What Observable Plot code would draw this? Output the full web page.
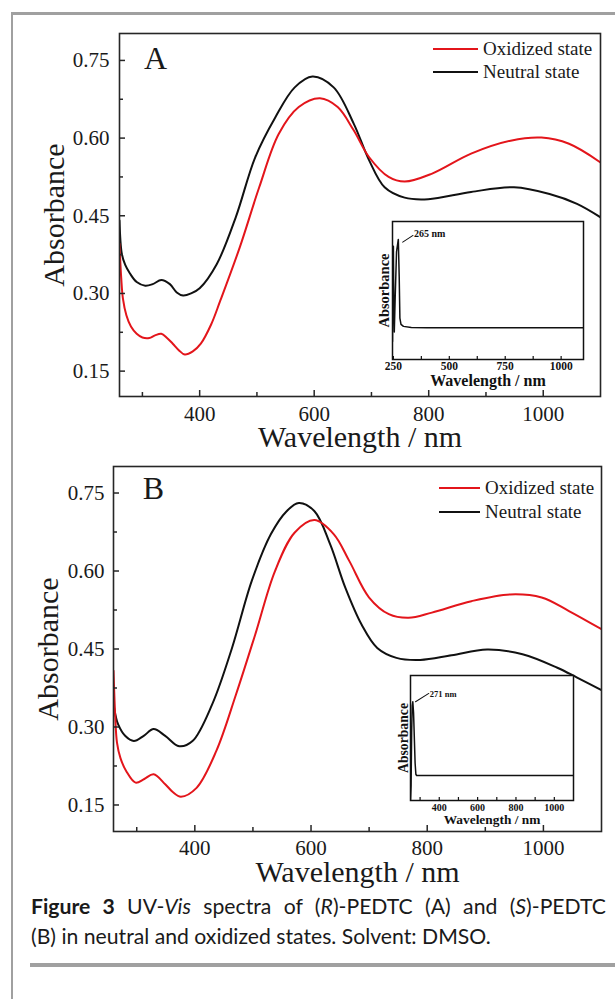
<!DOCTYPE html>
<html><head><meta charset="utf-8">
<script src="https://cdn.jsdelivr.net/npm/d3@7"></script>
<script src="https://cdn.jsdelivr.net/npm/@observablehq/plot@0.6"></script>
<style>
html,body{margin:0;padding:0;background:#fff;}
#page{position:relative;width:615px;height:999px;overflow:hidden;background:#fff;}
.abs{position:absolute;}
#bl{left:10.5px;top:12px;width:2.6px;height:987px;background:#a0a0a0;}
#bt{left:10.5px;top:12px;width:605px;height:2.6px;background:#a0a0a0;}
#br{left:30px;top:963px;width:585px;height:4px;background:#a0a0a0;}
#cap{left:31px;top:891px;width:575px;font-family:Lato,sans-serif;font-size:21.2px;color:#1a1a1a;line-height:30px;}
.l1{text-align:justify;text-align-last:justify;}
</style></head>
<body>
<div id="page">
  <div id="bl" class="abs"></div>
  <div id="bt" class="abs"></div>
  <div id="cap" class="abs">
    <div class="l1"><b>Figure 3</b> UV-<i>Vis</i> spectra of (<i>R</i>)-PEDTC (A) and (<i>S</i>)-PEDTC</div>
    <div>(B) in neutral and oxidized states. Solvent: DMSO.</div>
  </div>
  <div id="br" class="abs"></div>
</div>
<script>
// ---------- data ----------
const xTitle = "Wavelength / nm";
const yTitle = "Absorbance";
const seriesNames = ["Oxidized state", "Neutral state"];
const seriesColors = ["#e3151b", "#111111"];
const majorX = [400, 600, 800, 1000];
const minorX = [300, 500, 700, 900];
const majorY = [0.15, 0.30, 0.45, 0.60, 0.75];
const minorY = [0.225, 0.375, 0.525, 0.675];

// Panel A, (R)-PEDTC
const wlA_neu  = [260, 264, 270, 278, 290, 305, 318, 333, 348, 360, 371, 385, 400, 430, 463, 497, 532, 566, 597, 634, 669, 696, 723, 758, 799, 874, 949, 1011, 1059, 1100];
const absA_neu = [0.441, 0.377, 0.355, 0.339, 0.322, 0.315, 0.318, 0.326, 0.318, 0.302, 0.296, 0.300, 0.310, 0.357, 0.447, 0.563, 0.640, 0.698, 0.719, 0.698, 0.628, 0.557, 0.505, 0.485, 0.482, 0.496, 0.505, 0.492, 0.473, 0.447];
const wlA_ox   = [260, 263, 266, 272, 280, 290, 300, 312, 322, 333, 343, 353, 364, 374, 388, 402, 420, 436, 470, 504, 538, 573, 610, 641, 669, 696, 730, 758, 805, 874, 943, 997, 1045, 1100];
const absA_ox  = [0.396, 0.330, 0.290, 0.258, 0.236, 0.222, 0.215, 0.214, 0.219, 0.222, 0.214, 0.203, 0.190, 0.182, 0.188, 0.203, 0.240, 0.286, 0.389, 0.505, 0.608, 0.660, 0.677, 0.660, 0.615, 0.563, 0.525, 0.516, 0.531, 0.570, 0.595, 0.601, 0.589, 0.553];

// Panel B, (S)-PEDTC
const wlB_neu  = [260, 264, 268, 280, 295, 312, 329, 349, 373, 396, 430, 464, 498, 531, 558, 579, 606, 633, 659, 687, 714, 747, 788, 842, 903, 964, 1024, 1058, 1100];
const absB_neu = [0.344, 0.320, 0.305, 0.283, 0.273, 0.283, 0.296, 0.283, 0.263, 0.273, 0.344, 0.452, 0.581, 0.671, 0.715, 0.731, 0.715, 0.651, 0.568, 0.497, 0.452, 0.433, 0.429, 0.438, 0.449, 0.440, 0.414, 0.395, 0.371];
const wlB_ox   = [260, 263, 266, 272, 282, 298, 313, 329, 349, 362, 376, 403, 437, 471, 504, 538, 572, 606, 639, 666, 700, 734, 768, 808, 876, 943, 997, 1044, 1100];
const absB_ox  = [0.408, 0.320, 0.270, 0.240, 0.215, 0.193, 0.200, 0.209, 0.190, 0.175, 0.166, 0.183, 0.254, 0.363, 0.478, 0.600, 0.674, 0.698, 0.671, 0.619, 0.549, 0.517, 0.510, 0.520, 0.542, 0.555, 0.549, 0.523, 0.488];

// Insets (relative absorbance)
const insetA_wl  = [246, 248, 250, 252, 254, 258, 264, 272, 276, 279, 284, 295, 330, 400, 1100];
const insetA_abs = [0.13, 0.75, 0.82, 0.35, 0.20, 0.45, 0.78, 0.87, 0.60, 0.30, 0.255, 0.24, 0.232, 0.23, 0.23];
const insetA_ticksMajor = [250, 500, 750, 1000];
const insetA_ticksMinor = [375, 625, 875];
const insetA_peakLabel = "265 nm";

const insetB_wl  = [250, 253, 256, 259, 262, 266, 270, 274, 278, 282, 290, 1100];
const insetB_abs = [0.0, 0.12, 0.55, 0.76, 0.79, 0.70, 0.50, 0.30, 0.21, 0.20, 0.20, 0.20];
const insetB_ticksMajor = [400, 600, 800, 1000];
const insetB_ticksMinor = [300, 500, 700, 900];
const insetB_peakLabel = "271 nm";

// ---------- helpers ----------
const rows = (wl, ab) => wl.map((w, i) => ({wl: w, abs: ab[i]}));
const page = document.getElementById("page");
const axisColor = "#262626";
const serif = "'Liberation Serif', 'Times New Roman', serif";
const lineShape = {draw(ctx, l) { ctx.moveTo(0, 0); ctx.lineTo(0, -l); }};

function place(node, left, top) {
  node.style.position = "absolute";
  node.style.left = left + "px";
  node.style.top = top + "px";
  page.appendChild(node);
}

function mainPanel(o) {
  const innerH = o.height - o.mt - o.mb, innerW = o.width - o.ml - o.mr;
  const svg = Plot.plot({
    width: o.width, height: o.height,
    marginTop: o.mt, marginLeft: o.ml, marginRight: o.mr, marginBottom: o.mb,
    x: {domain: [260, 1100], axis: null},
    y: {domain: o.ydom, axis: null},
    style: {background: "transparent", fontFamily: serif, overflow: "visible", color: "#1a1a1a"},
    marks: [
      Plot.line(o.neu, {x: "wl", y: "abs", stroke: seriesColors[1], strokeWidth: 2, curve: "catmull-rom", clip: true}),
      Plot.line(o.ox, {x: "wl", y: "abs", stroke: seriesColors[0], strokeWidth: 2, curve: "catmull-rom", clip: true}),
      Plot.frame({stroke: axisColor, strokeWidth: 1.6}),
      Plot.ruleX(majorX, {x: d => d, insetTop: innerH - 6, stroke: axisColor, strokeWidth: 1.5}),
      Plot.ruleX(minorX, {x: d => d, insetTop: innerH - 4, stroke: axisColor, strokeWidth: 1.5}),
      Plot.ruleY(majorY, {y: d => d, insetRight: innerW - 6, stroke: axisColor, strokeWidth: 1.5}),
      Plot.ruleY(minorY, {y: d => d, insetRight: innerW - 4, stroke: axisColor, strokeWidth: 1.5}),
      Plot.text(majorX, {x: d => d, frameAnchor: "bottom", dy: o.xLabDy, text: d => String(d), fontSize: 21, textAnchor: "middle", lineAnchor: "middle"}),
      Plot.text(majorY, {y: d => d, frameAnchor: "left", dx: o.yLabDx, textAnchor: "end", text: d => d.toFixed(2), fontSize: 21, lineAnchor: "middle"}),
      Plot.text([xTitle], {frameAnchor: "bottom", dy: o.xTitleDy, text: d => d, textAnchor: "middle", lineAnchor: "bottom", fontSize: 30}),
      Plot.text([yTitle], {frameAnchor: "left", dx: o.yTitleDx, text: d => d, rotate: -90, textAnchor: "middle", lineAnchor: "bottom", fontSize: 30}),
      Plot.text([o.letter], {frameAnchor: "top-left", dx: o.letterDx, dy: o.letterDy, text: d => d, fontSize: 32, textAnchor: "middle", lineAnchor: "middle"})
    ]
  });
  place(svg, o.left, o.top);
}

function inset(o) {
  const innerH = o.height - o.mt - o.mb;
  const data = rows(o.wl, o.abs);
  const peak = d3.greatest(data, d => d.abs);
  const svg = Plot.plot({
    width: o.width, height: o.height,
    marginTop: o.mt, marginLeft: o.ml, marginRight: o.mr, marginBottom: o.mb,
    x: {domain: o.xdom, axis: null},
    y: {domain: [0, 1], axis: null},
    style: {background: "transparent", fontFamily: serif, fontWeight: "bold", overflow: "visible", color: "#111"},
    marks: [
      Plot.frame({fill: "white", stroke: "#111", strokeWidth: 1.5}),
      Plot.line(data, {x: "wl", y: "abs", stroke: "#111", strokeWidth: 1.5, clip: true}),
      Plot.ruleX(o.major, {x: d => d, insetTop: innerH - 3, stroke: "#111", strokeWidth: 1.2}),
      Plot.ruleX(o.minor, {x: d => d, insetTop: innerH - 3, stroke: "#111", strokeWidth: 1.2}),
      Plot.text(o.major, {x: d => d, frameAnchor: "bottom", dy: o.tickDy, text: d => String(d), fontSize: o.tickSize, textAnchor: "middle", lineAnchor: "middle"}),
      Plot.text([xTitle], {frameAnchor: "bottom", dy: o.titleDy, text: d => d, textAnchor: "middle", lineAnchor: "bottom", fontSize: o.titleSize}),
      Plot.text([yTitle], {frameAnchor: "left", dx: o.yTitleDx, text: d => d, rotate: -90, textAnchor: "middle", lineAnchor: "bottom", fontSize: o.yTitleSize}),
      Plot.vector([peak], {x: "wl", y: "abs", length: o.leadLen, rotate: o.leadRot, anchor: "start", dx: o.leadDx, dy: o.leadDy, shape: lineShape, stroke: "#111", strokeWidth: 1}),
      Plot.text([peak], {x: "wl", y: "abs", text: () => o.label, dx: o.labDx, dy: o.labDy, textAnchor: "start", lineAnchor: "middle", fontSize: o.labSize})
    ]
  });
  place(svg, o.left, o.top);
}

// ---------- panels ----------
mainPanel({left: 0, top: 0, width: 615, height: 470, mt: 33, ml: 119, mr: 15, mb: 74,
  ydom: [0.101, 0.802], neu: rows(wlA_neu, absA_neu), ox: rows(wlA_ox, absA_ox),
  xLabDy: 17.3, yLabDx: -10, xTitleDy: 50.5, yTitleDx: -56, letter: "A", letterDx: 36, letterDy: 25});

mainPanel({left: 0, top: 433, width: 615, height: 470, mt: 33, ml: 113, mr: 14, mb: 72,
  ydom: [0.099, 0.801], neu: rows(wlB_neu, absB_neu), ox: rows(wlB_ox, absB_ox),
  xLabDy: 17, yLabDx: -9, xTitleDy: 50.5, yTitleDx: -56, letter: "B", letterDx: 40, letterDy: 22});

inset({left: 350, top: 205, width: 255, height: 190, mt: 16, ml: 42, mr: 22, mb: 36,
  xdom: [246, 1100], wl: insetA_wl, abs: insetA_abs, major: insetA_ticksMajor, minor: insetA_ticksMinor,
  tickDy: 7.2, tickSize: 11.5, titleDy: 26, titleSize: 16, yTitleDx: -4, yTitleSize: 14.5,
  leadLen: 12.3, leadRot: 57, leadDx: 4.4, leadDy: 2.7, label: insetA_peakLabel, labDx: 15.7, labDy: -6, labSize: 10});

inset({left: 370, top: 660, width: 240, height: 170, mt: 15, ml: 40, mr: 37, mb: 30,
  xdom: [250, 1100], wl: insetB_wl, abs: insetB_abs, major: insetB_ticksMajor, minor: insetB_ticksMinor,
  tickDy: 7.5, tickSize: 10, titleDy: 23.5, titleSize: 13.4, yTitleDx: -3, yTitleSize: 13.7,
  leadLen: 15.7, leadRot: 58, leadDx: 2.7, leadDy: 0, label: insetB_peakLabel, labDx: 17, labDy: -7.7, labSize: 8.5});

// ---------- legends ----------
const legends = [
  {x1: 433, x2: 478, tx: 483, y: 49, gap: 23},
  {x1: 439, x2: 480, tx: 485, y: 488, gap: 24}
];
const ov = d3.create("svg").attr("width", 615).attr("height", 999)
  .style("position", "absolute").style("left", "0px").style("top", "0px").style("pointer-events", "none");
legends.forEach(L => {
  seriesNames.forEach((name, i) => {
    const y = L.y + i * L.gap;
    ov.append("line").attr("x1", L.x1).attr("x2", L.x2).attr("y1", y).attr("y2", y)
      .attr("stroke", seriesColors[i]).attr("stroke-width", 2);
    ov.append("text").attr("x", L.tx).attr("y", y).attr("dy", "0.33em")
      .attr("font-family", serif).attr("font-size", 19)
      .attr("fill", "#1a1a1a").text(name);
  });
});
page.appendChild(ov.node());
</script>
</body></html>
